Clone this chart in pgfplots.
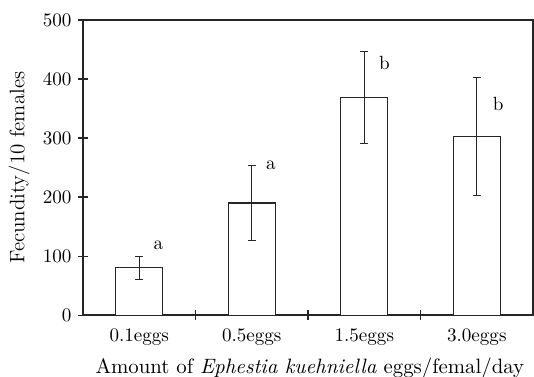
\documentclass[border=0pt]{standalone}
\usepackage{pgfplots}
\pgfplotsset{compat=1.18}
\begin{document}
\begin{tikzpicture}[x=1pt,y=1pt]
\useasboundingbox (-43.5pt,-32pt) rectangle (236.3pt,165.1pt);
\begin{axis}[
  at={(0,0)}, anchor=south west,
  scale only axis,
  width=235.8pt, height=154.6pt,
  xmin=-0.5, xmax=3.5,
  ymin=0, ymax=500,
  axis line style={line width=0.8pt, black!85},
  ytick={0,100,200,300,400,500},
  xtick={0,1,2,3},
  xticklabels={0.1eggs,0.5eggs,1.5eggs,3.0eggs},
  major x tick style={draw=none},
  minor xtick={0.5,1.5,2.5},
  minor tick length=5pt,
  major tick length=5pt,
  tick align=center,
  tick style={line width=0.6pt, black!85},
  ytick pos=left,
  xtick pos=bottom,
  x tick label style={yshift=-1pt},
  ylabel={Fecundity/10 females},
  ylabel style={at={(axis description cs:-0.142,0.5)}, anchor=center, font=\fontsize{11}{13}\selectfont},
  xlabel={Amount of \textit{Ephestia kuehniella} eggs/femal/day},
  xlabel style={at={(axis description cs:0.504,-0.18)}, anchor=center, font=\fontsize{10.9}{13}\selectfont},
  clip=false,
]
\addplot[ybar, bar width=0.42, draw=black!85, line width=0.6pt, fill=white,
  error bars/.cd, y dir=both, y explicit,
  error bar style={line width=0.6pt, black!85},
  error mark options={rotate=90, mark size=2.2pt, line width=0.6pt, black!85}]
  coordinates {
    (0,80) +- (0,19)
    (1,190) +- (0,64)
    (2,369) +- (0,78)
    (3,303) +- (0,100)
  };
\node at (axis cs:0.17,118) {a};
\node at (axis cs:1.17,254) {a};
\node at (axis cs:2.18,427) {b};
\node at (axis cs:3.19,357) {b};
\end{axis}
\end{tikzpicture}
\end{document}
